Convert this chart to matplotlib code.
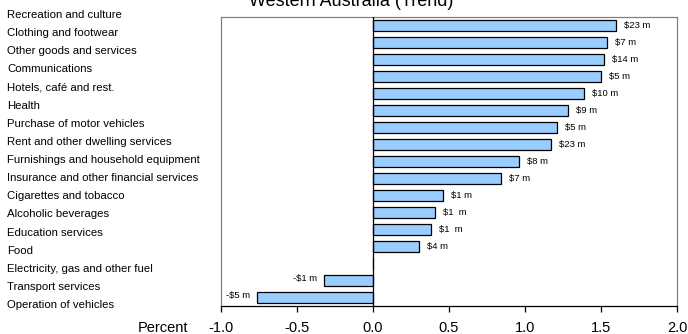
import matplotlib
matplotlib.use("Agg")
import matplotlib.pyplot as plt

plt.rcParams['font.family'] = ['Liberation Sans', 'DejaVu Sans']

categories = [
    "Recreation and culture",
    "Clothing and footwear",
    "Other goods and services",
    "Communications",
    "Hotels, café and rest.",
    "Health",
    "Purchase of motor vehicles",
    "Rent and other dwelling services",
    "Furnishings and household equipment",
    "Insurance and other financial services",
    "Cigarettes and tobacco",
    "Alcoholic beverages",
    "Education services",
    "Food",
    "Electricity, gas and other fuel",
    "Transport services",
    "Operation of vehicles",
]
values = [1.60, 1.54, 1.52, 1.50, 1.39, 1.28, 1.21, 1.17, 0.96, 0.84,
          0.46, 0.41, 0.38, 0.30, 0.0, -0.32, -0.765]
value_labels = ["$23 m", "$7 m", "$14 m", "$5 m", "$10 m", "$9 m", "$5 m", "$23 m",
                "$8 m", "$7 m", "$1 m", "$1  m", "$1  m", "$4 m", "", "-$1 m", "-$5 m"]
xticks = [-1.0, -0.5, 0.0, 0.5, 1.0, 1.5, 2.0]
xtick_labels = ["-1.0", "-0.5", "0.0", "0.5", "1.0", "1.5", "2.0"]
title = "Western Australia (Trend)"

fig = plt.figure(figsize=(6.88, 3.34), dpi=100)
ax = fig.add_axes([221/688, 28/334, 456/688, 289/334])

ypos = list(range(len(categories)))
ax.barh(ypos, values, height=0.68, color="#99CCFF", edgecolor="black", linewidth=0.9, zorder=2)
ax.axvline(0, color="black", linewidth=0.9, zorder=3)

for y, v, lab in zip(ypos, values, value_labels):
    if not lab:
        continue
    if v >= 0:
        ax.annotate(lab, (v, y), xytext=(8, 0), textcoords="offset pixels",
                    ha="left", va="center", fontsize=6.8)
    else:
        ax.annotate(lab, (v, y), xytext=(-7, 2), textcoords="offset pixels",
                    ha="right", va="center", fontsize=6.8)

ax.set_xlim(-1.0, 2.0)
ax.set_ylim(len(categories) - 0.5, -0.5)
ax.set_yticks([])
ax.set_xticks(xticks)
ax.set_xticklabels(xtick_labels, fontsize=10.5)
ax.tick_params(axis="x", direction="out", length=4, width=0.9, pad=7)
for s in ["left", "top", "right"]:
    ax.spines[s].set_color("#808080")
    ax.spines[s].set_linewidth(0.9)
ax.spines["bottom"].set_color("black")
ax.spines["bottom"].set_linewidth(0.9)

# category labels (left column)
top_px, step_px = 15, 18.125
for i, c in enumerate(categories):
    fig.text(7/688, 1 - (top_px + i*step_px)/334, c, ha="left", va="center", fontsize=8.2)

fig.text(188/688, 1 - 328/334, "Percent", ha="right", va="center", fontsize=10.5)
fig.text(351/688, 1 - 1/334, title, ha="center", va="center", fontsize=13)

fig.savefig("out.png", dpi=100)
